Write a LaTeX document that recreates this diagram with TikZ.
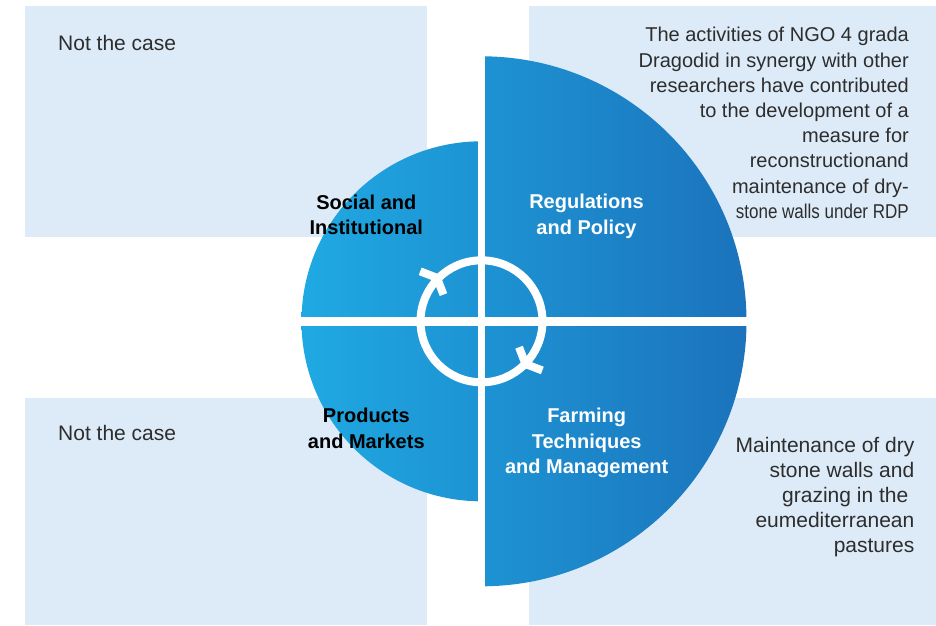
\documentclass[tikz,border=0pt]{standalone}
\usepackage{fontspec}
\setmainfont{Liberation Sans}
\usetikzlibrary{calc}
\definecolor{boxbg}{RGB}{221,235,248}
\definecolor{cyanL}{RGB}{31,169,226}
\definecolor{blueR}{RGB}{27,115,188}
\definecolor{txtgray}{RGB}{45,45,45}
\tikzset{
  lightbox/.style={fill=boxbg},
  boxtext/.style={inner sep=0pt, text=txtgray, font=\fontsize{20}{25.2}\selectfont},
  quadlabel/.style={inner sep=0pt, align=center, font=\bfseries\fontsize{20}{25.5}\selectfont},
  gapline/.style={white, line width=8.5pt},
  ringline/.style={white, line width=8pt},
  arrowmark/.style={white, line width=8pt, line join=miter, line cap=butt}
}
\begin{document}
\begin{tikzpicture}[x=1pt,y=-1pt]
\useasboundingbox (0,0) rectangle (936,625);
% background boxes
\fill[lightbox] (25,6) rectangle (427,237);
\fill[lightbox] (529,6) rectangle (936,237);
\fill[lightbox] (25,398) rectangle (427,625);
\fill[lightbox] (529,398) rectangle (936,625);
% disc halves with one gradient
\coordinate (C) at (481.5,321.3);
\path[left color=cyanL, right color=blueR]
  (481.5,141.3) arc[start angle=270, end angle=90, radius=180] -- cycle
  (481.5,56.3) arc[start angle=-90, end angle=90, radius=265] -- cycle;
% cross gaps
\draw[white, line width=7.5pt] (481.5,50) -- (481.5,595);
\draw[gapline] (295,321.3) -- (755,321.3);
% ring
\draw[ringline] (C) circle[radius=61];
% arrow marks
\coordinate (V1) at (437,277.8);
\coordinate (V2) at (525.5,364);
\draw[arrowmark] ($(V1)+(-16.8,-6.45)$) -- (V1) -- ($(V1)+(6.45,16.8)$);
\draw[arrowmark] ($(V2)+(16.8,6.45)$) -- (V2) -- ($(V2)+(-6.45,-16.8)$);
% quadrant labels
\node[quadlabel, text=black, anchor=north] (social) at (366.3,191.2) {\strut Social and\\Institutional};
\node[quadlabel, text=white, anchor=north] (reg) at (586.5,190.5) {\strut Regulations\\and Policy};
\node[quadlabel, text=black, anchor=north] (prod) at (366.3,404.5) {\strut Products\\and Markets};
\node[quadlabel, text=white, anchor=north] (farm) at (586.7,404.5) {\strut Farming\\Techniques\\and Management};
% box texts
\node[boxtext, anchor=base west, font=\fontsize{21}{25.2}\selectfont] (nc1) at (58,50) {Not the case};
\node[boxtext, anchor=base west, font=\fontsize{21}{25.2}\selectfont] (nc2) at (58,440) {Not the case};
\node[boxtext, align=right, anchor=north east] (ngo) at (909,24.1)
  {\strut The activities of NGO 4 grada\\
   Dragodid in synergy with other\\
   researchers have contributed\\
   to the development of a\\
   measure for\\
   reconstructionand\\
   maintenance of dry-\\
   \scalebox{0.85}[1]{stone walls under RDP}};
\node[boxtext, align=right, anchor=north east, font=\fontsize{21}{24.8}\selectfont] (maint) at (914.5,435.3)
  {\strut Maintenance of dry\\
   stone walls and\\
   grazing in the\rule{6pt}{0pt}\\
   eumediterranean\\
   pastures};
\end{tikzpicture}
\end{document}
